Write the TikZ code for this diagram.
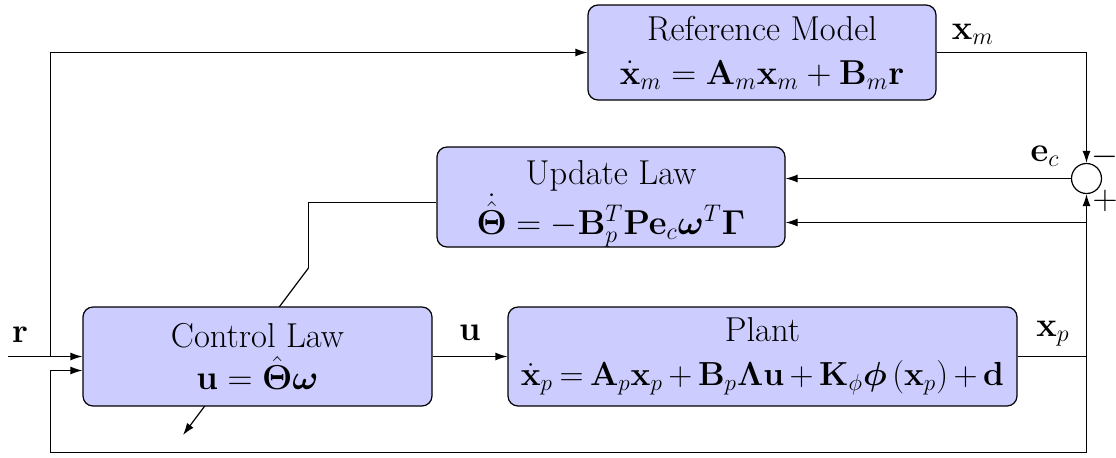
\documentclass[tikz,border=0pt]{standalone}
\usepackage{amsmath,bm,graphicx}
\usetikzlibrary{arrows.meta,calc}
\pgfdeclarelayer{background}
\pgfsetlayers{background,main}
\begin{document}
\begin{tikzpicture}[x=0.5pt,y=-0.5pt,
  font=\fontsize{17.28}{21}\selectfont,
  blk/.style={draw, line width=0.6pt, fill=blue!20, rounded corners=5pt, align=center, inner sep=0pt},
  lbl/.style={inner sep=0pt},
  wire/.style={line width=0.6pt},
  arr/.style={wire, -{Latex[length=6pt,width=4pt]}}]
\useasboundingbox (0,0) rectangle (1116,457);
% blocks
\node[blk, minimum width=174pt, minimum height=47.5pt] (ref) at (762,52.5)
  {Reference Model\\[1pt]$\dot{\mathbf{x}}_m=\mathbf{A}_m\mathbf{x}_m+\mathbf{B}_m\mathbf{r}$};
\node[blk, minimum width=174pt, minimum height=50pt] (upd) at (611,197) {};
\node[lbl, align=center] (updt) at (611,204)
  {Update Law\\[0pt]$\dot{\hat{\bm{\Theta}}}=-\mathbf{B}_p^T\mathbf{P}\mathbf{e}_c\bm{\omega}^T\bm{\Gamma}$};
\node[blk, minimum width=174.5pt, minimum height=49.5pt] (ctl) at (257.5,356.5)
  {Control Law\\$\mathbf{u}=\hat{\bm{\Theta}}\bm{\omega}$};
\node[blk, minimum width=254.5pt, minimum height=49.5pt] (plant) at (762.5,356.5)
  {Plant\\[1pt]\scalebox{0.965}{$\thickmuskip=3.5mu\medmuskip=3mu
   \dot{\mathbf{x}}_p=\mathbf{A}_p\mathbf{x}_p+\mathbf{B}_p\bm{\Lambda}\mathbf{u}+\mathbf{K}_\phi\bm{\phi}\left(\mathbf{x}_p\right)+\mathbf{d}$}};
\node[draw, circle, line width=0.6pt, minimum size=15pt, inner sep=0pt, fill=white] (sum) at (1086.5,178.5) {};
% coordinates
\coordinate (rin) at (8,356.5);
\coordinate (rb) at (50.5,356.5);
\coordinate (xpj) at (1086.5,356.5);
\coordinate (fbR) at (1086.5,452.5);
\coordinate (fbL) at (50.5,452.5);
\coordinate (fbU) at (50.5,370.5);
\coordinate (xpu) at (1086.5,222.5);
\coordinate (u1) at (308.5,202.5);
\coordinate (u2) at (308.5,268);
\coordinate (u3) at (183,435);
% wires
\draw[arr] (rin) -- (rin -| ctl.west);
\draw[arr] (rb) |- (ref.west);
\draw[arr] (ref.east) -| (sum.north);
\draw[arr] (ctl.east) -- (plant.west);
\draw[arr] (plant.east) -| (sum.south);
\draw[arr] (xpj) -- (fbR) -- (fbL) -- (fbU) -- (fbU -| ctl.west);
\draw[arr] (sum.west) -- (sum.west -| upd.east);
\draw[arr] (xpu) -- (xpu -| upd.east);
\draw[wire] (u1 -| upd.west) -- (u1) -- (u2);
\begin{pgfonlayer}{background}
\draw[arr] (u2) -- (u3);
\end{pgfonlayer}
% labels
\node[lbl] (lr) at (20,335) {$\mathbf{r}$};
\node[lbl] (lu) at (470,333) {$\mathbf{u}$};
\node[lbl] (lxm) at (973,34) {$\mathbf{x}_m$};
\node[lbl] (lxp) at (1053,334) {$\mathbf{x}_p$};
\node[lbl] (lec) at (1045,156) {$\mathbf{e}_c$};
\node[lbl] (lm) at (1105,157) {$-$};
\node[lbl] (lp) at (1105,201) {$+$};
\end{tikzpicture}
\end{document}
